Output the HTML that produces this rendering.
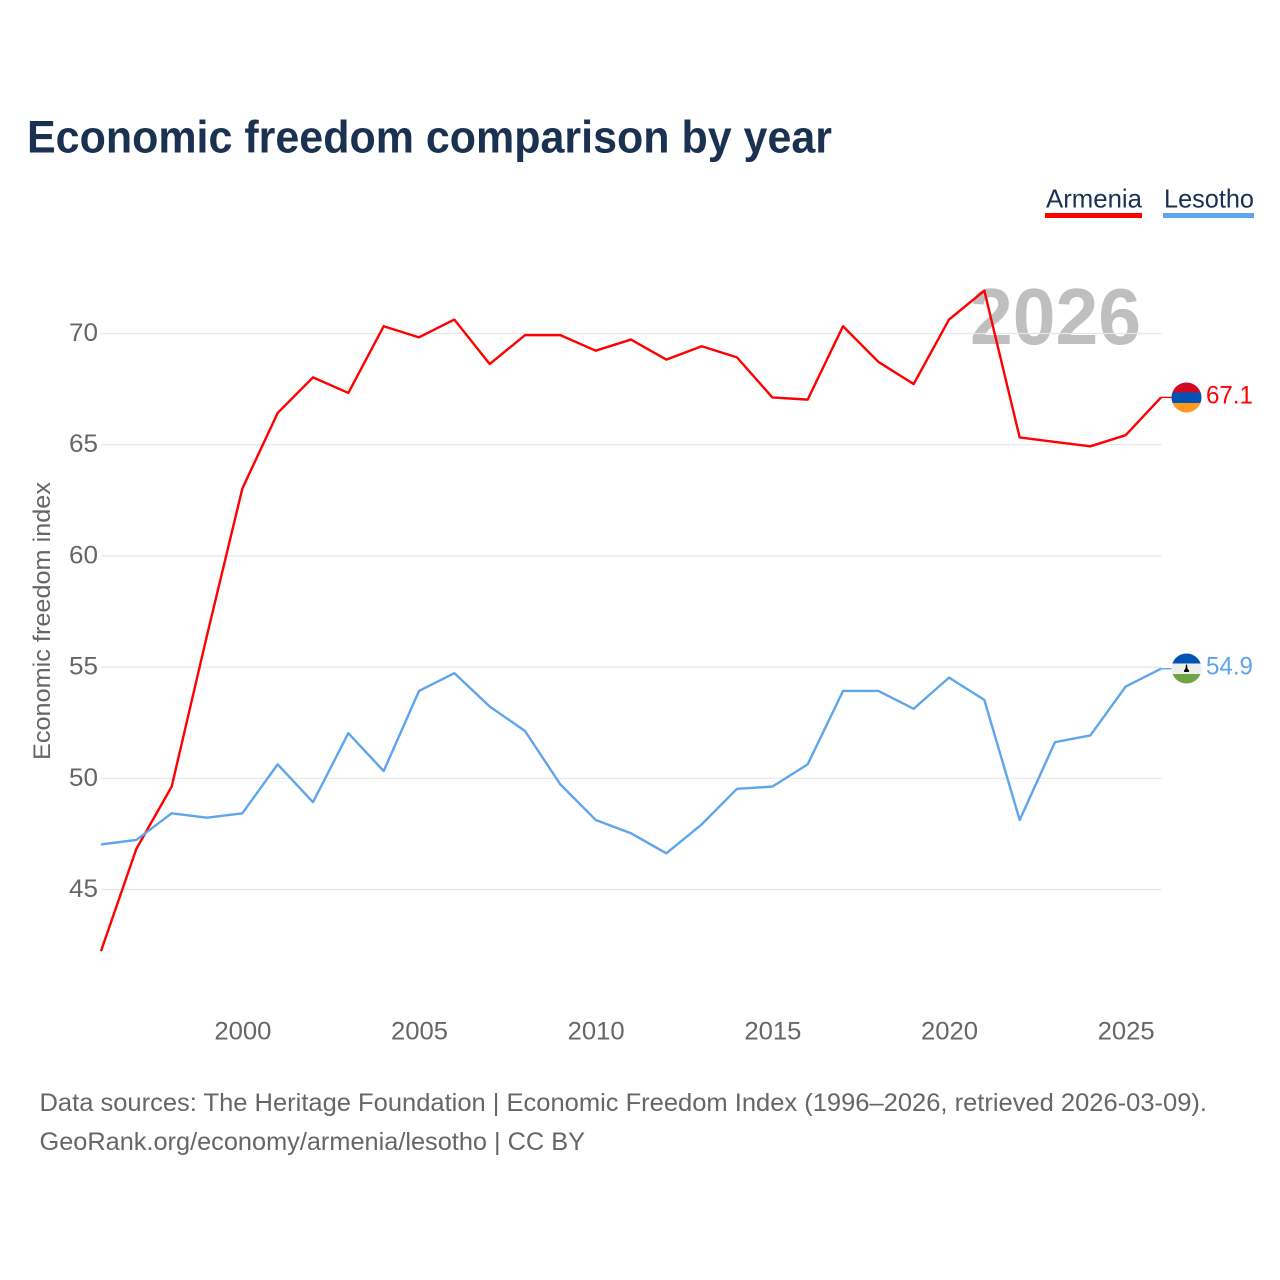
<!DOCTYPE html>
<html lang="en">
<head>
<meta charset="utf-8">
<title>Economic freedom comparison by year</title>
<style>
html,body{margin:0;padding:0;background:#fff;}
svg{display:block;font-family:"Liberation Sans",sans-serif;}
</style>
</head>
<body>
<svg id="chart" xmlns="http://www.w3.org/2000/svg" width="1280" height="1280" viewBox="0 0 1280 1280">
  <defs>
    <clipPath id="armenia-clip"><circle cx="1186.5" cy="397.5" r="15"/></clipPath>
    <clipPath id="lesotho-clip"><circle cx="1186.5" cy="668.5" r="15"/></clipPath>
  </defs>
  <rect width="1280" height="1280" fill="#fff"/>
  <text x="27" y="152.5" font-size="45" font-weight="700" fill="#1a3152" textLength="805" lengthAdjust="spacingAndGlyphs">Economic freedom comparison by year</text>
  <text x="970" y="344" font-size="80" font-weight="700" fill="#bfbfbf" textLength="171" lengthAdjust="spacingAndGlyphs">2026</text>
  <g id="grid"></g>
  <g id="yticks"></g>
  <g id="xticks"></g>
  <text transform="translate(50,760) rotate(-90)" x="0" y="0" font-size="24" fill="#666" textLength="278" lengthAdjust="spacingAndGlyphs">Economic freedom index</text>
  <g id="series" transform="translate(0,-0.6)"></g>

  <g>
    <text x="1046" y="207.5" font-size="26" fill="#1a3152" textLength="96" lengthAdjust="spacingAndGlyphs">Armenia</text>
    <rect x="1045" y="213" width="97" height="5" fill="#ff0000"/>
  </g>
  <g>
    <text x="1164" y="207.5" font-size="26" fill="#1a3152" textLength="90" lengthAdjust="spacingAndGlyphs">Lesotho</text>
    <rect x="1163" y="213" width="91" height="5" fill="#5fa5ec"/>
  </g>

  <g clip-path="url(#armenia-clip)">
    <rect x="1171" y="382" width="31" height="10.5" fill="#cc0a26"/>
    <rect x="1171" y="392.5" width="31" height="10.5" fill="#0052b4"/>
    <rect x="1171" y="403" width="31" height="10" fill="#ff9a1f"/>
  </g>
  <g clip-path="url(#lesotho-clip)">
    <rect x="1171" y="653" width="31" height="10.5" fill="#0052b4"/>
    <rect x="1171" y="663.5" width="31" height="10.5" fill="#eeeeee"/>
    <rect x="1171" y="674" width="31" height="11" fill="#6da544"/>
    <path d="M1186 664.5h1l.5 4 1.7 2.4-.5 1.1h-4.4l-.5-1.1 1.7-2.4z" fill="#000"/>
  </g>
  <text x="1206" y="403.5" font-size="25" fill="#ff0000" textLength="47" lengthAdjust="spacingAndGlyphs">67.1</text>
  <text x="1206" y="674.5" font-size="25" fill="#5fa5ec" textLength="47" lengthAdjust="spacingAndGlyphs">54.9</text>

  <text x="39.5" y="1111" font-size="25" fill="#666" textLength="1167.5" lengthAdjust="spacingAndGlyphs">Data sources: The Heritage Foundation | Economic Freedom Index (1996–2026, retrieved 2026-03-09).</text>
  <text x="39.5" y="1150" font-size="25" fill="#666" textLength="545.5" lengthAdjust="spacingAndGlyphs">GeoRank.org/economy/armenia/lesotho | CC BY</text>
</svg>
<script>
var years = [1996,1997,1998,1999,2000,2001,2002,2003,2004,2005,2006,2007,2008,2009,2010,2011,2012,2013,2014,2015,2016,2017,2018,2019,2020,2021,2022,2023,2024,2025,2026];
var armeniaValues = [42.2,46.8,49.6,56.4,63.0,66.4,68.0,67.3,70.3,69.8,70.6,68.6,69.9,69.9,69.2,69.7,68.8,69.4,68.9,67.1,67.0,70.3,68.7,67.7,70.6,71.9,65.3,65.1,64.9,65.4,67.1];
var lesothoValues = [47.0,47.2,48.4,48.2,48.4,50.6,48.9,52.0,50.3,53.9,54.7,53.2,52.1,49.7,48.1,47.5,46.6,47.9,49.5,49.6,50.6,53.9,53.9,53.1,54.5,53.5,48.1,51.6,51.9,54.1,54.9];
var yTickValues = [45,50,55,60,65,70];
var xTickValues = [2000,2005,2010,2015,2020,2025];

var NS = 'http://www.w3.org/2000/svg';
function xScale(year){ return 101 + (year - 1996) * (1060 / 30); }
function yScale(value){ return 889.5 - (value - 45) * (556 / 25); }
function make(tag, attrs, parent){
  var el = document.createElementNS(NS, tag);
  for (var k in attrs) el.setAttribute(k, attrs[k]);
  parent.appendChild(el);
  return el;
}
var gridG = document.getElementById('grid');
var yG = document.getElementById('yticks');
var xG = document.getElementById('xticks');
var seriesG = document.getElementById('series');

yTickValues.forEach(function(v){
  var line = make('line', {x1:101, x2:1161.5, y1:yScale(v), y2:yScale(v), stroke:'#e6e6e6', 'stroke-width':1.2}, gridG);
  
  
  var label = make('text', {x:98, y:yScale(v) + 7.5, 'text-anchor':'end', 'font-size':25, fill:'#666', textLength:29, lengthAdjust:'spacingAndGlyphs'}, yG);
  
  
  label.textContent = v;
});
xTickValues.forEach(function(y){
  var label = make('text', {x:xScale(y) + 0.5, y:1039.5, 'text-anchor':'middle', 'font-size':25, fill:'#666', textLength:57, lengthAdjust:'spacingAndGlyphs'}, xG);
  
  
  label.textContent = y;
});
function linePoints(values){
  return values.map(function(v, i){ return xScale(years[i]).toFixed(2) + ',' + yScale(v).toFixed(2); }).join(' ');
}
var armeniaLine = make('polyline', {points:linePoints(armeniaValues), fill:'none', stroke:'#ff0000', 'stroke-width':2.4, 'stroke-linejoin':'round'}, seriesG);


var lesothoLine = make('polyline', {points:linePoints(lesothoValues), fill:'none', stroke:'#5fa5ec', 'stroke-width':2.4, 'stroke-linejoin':'round'}, seriesG);


var lastA = armeniaValues[armeniaValues.length - 1];
var lastL = lesothoValues[lesothoValues.length - 1];
var armeniaLeader = make('line', {x1:xScale(2026), x2:1172, y1:yScale(lastA), y2:yScale(lastA), stroke:'#ff0000', 'stroke-width':1.4}, seriesG);


var lesothoLeader = make('line', {x1:xScale(2026), x2:1172, y1:yScale(lastL), y2:yScale(lastL), stroke:'#5fa5ec', 'stroke-width':1.4}, seriesG);


</script>
</body>
</html>
